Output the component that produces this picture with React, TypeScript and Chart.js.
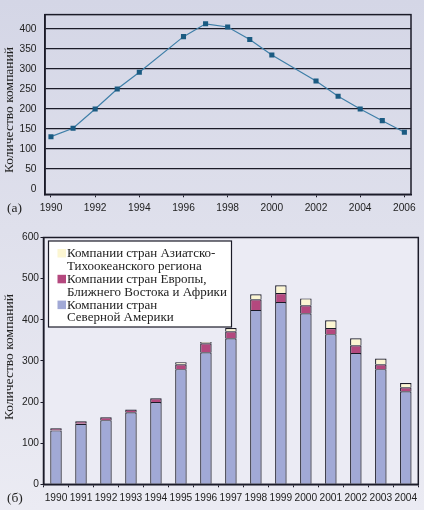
import React, { useEffect, useRef } from 'react';
import { Chart, registerables } from 'chart.js';

Chart.register(...registerables);

// ---------- data ----------
const LINE_YEARS = [1990, 1991, 1992, 1993, 1994, 1996, 1997, 1998, 1999, 2000, 2002, 2003, 2004, 2005, 2006];
const LINE_COUNTS = [131, 152, 200, 250, 292, 381, 413, 405, 374, 335, 270, 232, 200, 171, 142];
const LINE_X_TICKS = [1990, 1992, 1994, 1996, 1998, 2000, 2002, 2004, 2006];
const LINE_Y_TICKS = [0, 50, 100, 150, 200, 250, 300, 350, 400];

const BAR_YEARS = ['1990', '1991', '1992', '1993', '1994', '1995', '1996', '1997', '1998', '1999', '2000', '2001', '2002', '2003', '2004'];
const NORTH_AMERICA = [131, 147, 156, 175, 200, 280, 321, 355, 424, 443, 416, 365, 319, 280, 226];
const EUROPE_MEA = [5, 6, 7, 7, 9, 12, 22, 17, 26, 22, 19, 15, 19, 12, 10];
const ASIA_PACIFIC = [0, 0, 0, 0, 0, 5, 3, 8, 12, 19, 17, 19, 17, 14, 10];
const BAR_Y_TICKS = [0, 100, 200, 300, 400, 500, 600];

const Y_TITLE = 'Количество компаний';
const LABEL_A = '(а)';
const LABEL_B = '(б)';
const LEGEND_ITEMS = [
  { lines: ['Компании стран Азиатско-', 'Тихоокеанского региона'], color: '#fcf6d2' },
  { lines: ['Компании стран Европы,', 'Ближнего Востока и Африки'], color: '#b4487e' },
  { lines: ['Компании стран', 'Северной Америки'], color: '#a1a9d6' },
];

// ---------- styles ----------
const INK = '#1b1b28';
const SERIF = "'Liberation Serif', 'Times New Roman', serif";
const SANS = "'Liberation Sans', Arial, sans-serif";
const TICK_FONT = { family: SANS, size: 10.2 };

const decor = {
  id: 'decor',
  beforeDraw(chart: any, _args: any, opts: any) {
    const { ctx, chartArea: ca } = chart;
    if (opts.fill) {
      ctx.save();
      ctx.fillStyle = opts.fill;
      ctx.fillRect(ca.left, ca.top, ca.right - ca.left, ca.bottom - ca.top);
      ctx.restore();
    }
  },
  afterDraw(chart: any, _args: any, opts: any) {
    const { ctx, chartArea: ca } = chart;
    ctx.save();
    ctx.strokeStyle = INK;
    ctx.lineWidth = 1.5;
    ctx.strokeRect(ca.left, ca.top, ca.right - ca.left, ca.bottom - ca.top);
    ctx.restore();

    // y title
    ctx.save();
    ctx.fillStyle = '#222';
    ctx.font = `13.5px ${SERIF}`;
    ctx.translate(opts.titleX, opts.titleY);
    ctx.rotate(-Math.PI / 2);
    ctx.textAlign = 'center';
    ctx.textBaseline = 'middle';
    ctx.fillText(Y_TITLE, 0, 0);
    ctx.restore();

    // panel label
    ctx.save();
    ctx.fillStyle = '#222';
    ctx.font = `13.5px ${SERIF}`;
    ctx.textAlign = 'left';
    ctx.textBaseline = 'middle';
    ctx.fillText(opts.panel, opts.panelX, opts.panelY);
    ctx.restore();

    // legend
    if (opts.legend) {
      const L = opts.legend;
      ctx.save();
      ctx.fillStyle = '#ffffff';
      ctx.fillRect(L.x, L.y, L.w, L.h);
      ctx.strokeStyle = INK;
      ctx.lineWidth = 1.2;
      ctx.strokeRect(L.x, L.y, L.w, L.h);
      ctx.font = `13px ${SERIF}`;
      ctx.textBaseline = 'middle';
      ctx.textAlign = 'left';
      let line = 0;
      LEGEND_ITEMS.forEach((item) => {
        const cy = L.y + L.firstLine + line * L.lineH;
        ctx.fillStyle = item.color;
        ctx.fillRect(L.x + 9, cy - 4.5, 8.5, 8.5);
        ctx.fillStyle = '#222';
        item.lines.forEach((t, i) => {
          ctx.fillText(t, L.x + 18.5, L.y + L.firstLine + (line + i) * L.lineH);
        });
        line += item.lines.length;
      });
      ctx.restore();
    }
  },
};

function LineChart() {
  const ref = useRef<HTMLCanvasElement | null>(null);
  useEffect(() => {
    if (!ref.current) return;
    const chart = new Chart(ref.current, {
      type: 'line',
      data: {
        datasets: [
          {
            data: LINE_YEARS.map((y, i) => ({ x: y, y: LINE_COUNTS[i] })),
            borderColor: '#3f7fa8',
            borderWidth: 1.2,
            pointStyle: 'rect',
            pointRadius: 3.6,
            pointBackgroundColor: '#1b5b82',
            pointBorderColor: '#1b5b82',
            pointBorderWidth: 0,
            tension: 0,
          },
        ],
      },
      options: {
        animation: false,
        responsive: true,
        maintainAspectRatio: false,
        layout: { padding: { top: 7, right: 13, left: 0, bottom: 0 } },
        plugins: {
          legend: { display: false },
          tooltip: { enabled: false },
          decor: { titleX: 9.5, titleY: 110, panel: LABEL_A, panelX: 7, panelY: 208.5 },
        } as any,
        scales: {
          x: {
            type: 'linear',
            min: 1989.73,
            max: 2006.3,
            afterBuildTicks: (s: any) => {
              s.ticks = LINE_X_TICKS.map((v) => ({ value: v }));
            },
            afterFit: (s: any) => {
              s.height = 21.7;
            },
            grid: { drawOnChartArea: false, drawTicks: true, tickLength: 3, color: INK, lineWidth: 1 },
            border: { display: true, color: INK, width: 1.5 },
            ticks: { font: TICK_FONT, color: '#222', padding: 5, maxRotation: 0, callback: (v: any) => String(v) },
          },
          y: {
            type: 'linear',
            min: -13,
            max: 436,
            afterBuildTicks: (s: any) => {
              s.ticks = LINE_Y_TICKS.map((v) => ({ value: v }));
            },
            afterFit: (s: any) => {
              s.width = 45;
            },
            grid: {
              drawTicks: false,
              color: (c: any) => (c.tick && c.tick.value === 0 ? 'rgba(0,0,0,0)' : INK),
              lineWidth: 1.3,
            },
            border: { display: true, color: INK, width: 1.5 },
            ticks: { font: TICK_FONT, color: '#222', padding: 8.5 },
          },
        },
      },
      plugins: [decor as any],
    });
    return () => chart.destroy();
  }, []);
  return (
    <div style={{ position: 'relative', width: 424, height: 216 }}>
      <canvas ref={ref} />
    </div>
  );
}

function BarChart() {
  const ref = useRef<HTMLCanvasElement | null>(null);
  useEffect(() => {
    if (!ref.current) return;
    const common = {
      borderColor: INK,
      borderWidth: 1.2,
      categoryPercentage: 1,
      barPercentage: 0.46,
      stack: 's',
    };
    const chart = new Chart(ref.current, {
      type: 'bar',
      data: {
        labels: BAR_YEARS,
        datasets: [
          { ...common, label: LEGEND_ITEMS[2].lines.join(' '), data: NORTH_AMERICA, backgroundColor: LEGEND_ITEMS[2].color },
          { ...common, label: LEGEND_ITEMS[1].lines.join(' '), data: EUROPE_MEA, backgroundColor: LEGEND_ITEMS[1].color },
          { ...common, label: LEGEND_ITEMS[0].lines.join(' '), data: ASIA_PACIFIC, backgroundColor: LEGEND_ITEMS[0].color },
        ],
      },
      options: {
        animation: false,
        responsive: true,
        maintainAspectRatio: false,
        layout: { padding: { top: 21.5, right: 5.7, left: 0, bottom: 0 } },
        plugins: {
          legend: { display: false },
          tooltip: { enabled: false },
          decor: {
            fill: '#ebebf4',
            titleX: 9.5,
            titleY: 141,
            panel: LABEL_B,
            panelX: 7,
            panelY: 282.5,
            legend: { x: 48.5, y: 25, w: 183, h: 86, firstLine: 12.5, lineH: 12.9 },
          },
        } as any,
        scales: {
          x: {
            stacked: true,
            afterFit: (s: any) => {
              s.height = 25.7;
            },
            grid: { drawOnChartArea: false, drawTicks: true, tickLength: 3, color: INK, lineWidth: 1, offset: true },
            border: { display: true, color: INK, width: 1.5 },
            ticks: { font: TICK_FONT, color: '#222', padding: 5, maxRotation: 0, autoSkip: false },
          },
          y: {
            stacked: true,
            min: 0,
            max: 600,
            afterBuildTicks: (s: any) => {
              s.ticks = BAR_Y_TICKS.map((v) => ({ value: v }));
            },
            afterFit: (s: any) => {
              s.width = 43.5;
            },
            grid: { drawOnChartArea: false, drawTicks: true, tickLength: 3, color: INK, lineWidth: 1 },
            border: { display: true, color: INK, width: 1.5 },
            ticks: { font: TICK_FONT, color: '#222', padding: 1.5 },
          },
        },
      },
      plugins: [decor as any],
    });
    return () => chart.destroy();
  }, []);
  return (
    <div style={{ position: 'relative', width: 424, height: 294 }}>
      <canvas ref={ref} />
    </div>
  );
}

export default function App() {
  return (
    <div
      style={{
        position: 'fixed',
        left: 0,
        top: 0,
        width: 424,
        height: 510,
        background: 'linear-gradient(180deg, #d4d6e6 0%, #dfe0ec 45%, #ebebf3 100%)',
        overflow: 'hidden',
      }}
    >
      <LineChart />
      <BarChart />
    </div>
  );
}
